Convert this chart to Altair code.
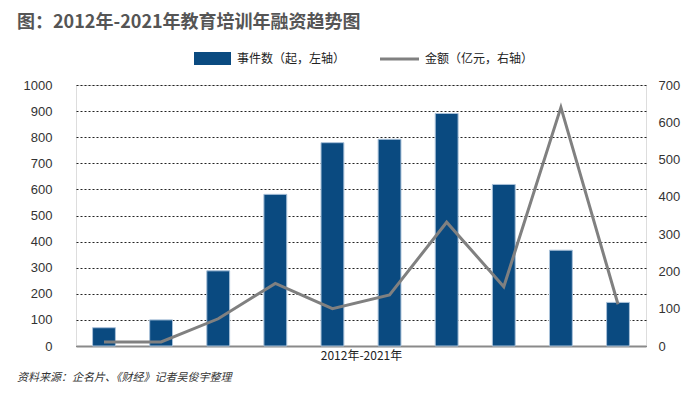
import altair as alt
import pandas as pd

years = ["2012", "2013", "2014", "2015", "2016", "2017", "2018", "2019", "2020", "2021"]
counts = [70, 100, 288, 581, 779, 792, 891, 619, 367, 167]
amounts = [11, 11, 73, 168, 100, 137, 332, 159, 640, 112]

bar_name = "事件数（起，左轴）"
line_name = "金额（亿元，右轴）"
title_text = "图：2012年-2021年教育培训年融资趋势图"
x_title = "2012年-2021年"
source_text = "资料来源：企名片、《财经》记者吴俊宇整理"

df = pd.DataFrame({"year": years, "count": counts, "amount": amounts})

CJK = "Noto Sans CJK SC"
NUM = "Liberation Sans"

x_enc = alt.X("year:N", sort=years,
              scale=alt.Scale(paddingInner=0.6, paddingOuter=0.29),
              axis=alt.Axis(labels=False, ticks=False, domain=True,
                            domainColor="#8a8a8a", domainWidth=2,
                            title=x_title, titleFont=CJK, titleFontSize=12,
                            titleFontWeight="normal", titleColor="#222",
                            titlePadding=4))

bars = alt.Chart(df).mark_bar(color="#0a4a80", stroke="#a9c1d9", strokeWidth=1).encode(
    x=x_enc,
    y=alt.Y("count:Q", scale=alt.Scale(domain=[0, 1000]),
            axis=alt.Axis(values=list(range(0, 1001, 100)), format="d", title=None,
                          grid=True, gridColor="#222", gridDash=[2, 2], gridWidth=1,
                          domain=False, ticks=False, labelFont=NUM, labelFontSize=13,
                          labelColor="#333", labelPadding=24, orient="left")),
)

line = alt.Chart(df).mark_line(color="#808080", strokeWidth=3).encode(
    x=alt.X("year:N", sort=years),
    y=alt.Y("amount:Q", scale=alt.Scale(domain=[0, 700]),
            axis=alt.Axis(values=list(range(0, 701, 100)), format="d", title=None, grid=False,
                          domain=False, ticks=False, labelFont=NUM, labelFontSize=13,
                          labelColor="#333", labelPadding=12, orient="right")),
)

deco = pd.DataFrame({"a": [0]})
base = alt.Chart(deco)

leg_rect = base.mark_rect(color="#0a4a80").encode(
    x=alt.value(118), x2=alt.value(155), y=alt.value(-33), y2=alt.value(-20))
leg_bar_text = base.mark_text(text=bar_name, font=CJK, fontSize=12, color="#222",
                              align="left", baseline="middle").encode(
    x=alt.value(161), y=alt.value(-26))
leg_line = base.mark_rule(color="#808080", strokeWidth=3).encode(
    x=alt.value(304), x2=alt.value(343), y=alt.value(-26))
leg_line_text = base.mark_text(text=line_name, font=CJK, fontSize=12, color="#222",
                               align="left", baseline="middle").encode(
    x=alt.value(349), y=alt.value(-26))

source = base.mark_text(text=source_text, font=CJK, fontSize=11, fontStyle="italic",
                        color="#333", align="left", baseline="middle").encode(
    x=alt.value(-59), y=alt.value(293))

main = alt.layer(bars, line).resolve_scale(y="independent")

chart = alt.layer(main, leg_rect, leg_bar_text, leg_line, leg_line_text, source).properties(
    width=570, height=261,
    autosize=alt.AutoSizeParams(type="none"),
    padding={"left": 68, "top": 77, "right": 38, "bottom": 41},
    title=alt.TitleParams(title_text, anchor="start", frame="group", dx=-59, offset=20,
                          font=CJK, fontSize=18, fontWeight="bold", color="#555"),
).configure_view(stroke=None).configure(background="white")

chart.save("out.html", embed_options={"renderer": "svg", "actions": False})
